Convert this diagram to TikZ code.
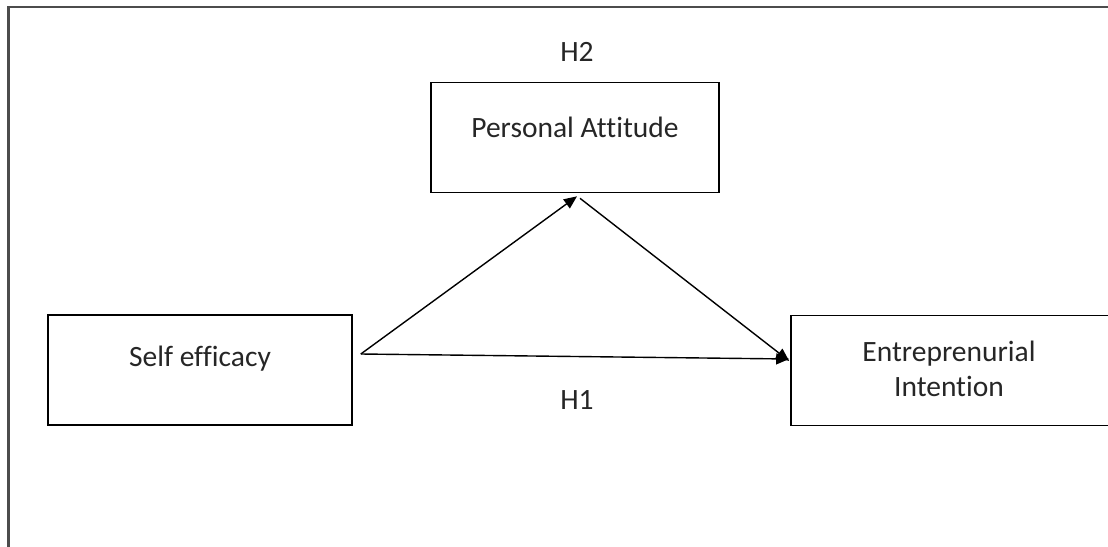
\documentclass[tikz,border=0pt]{standalone}
\usepackage{fontspec}
\setmainfont{Carlito}[Ligatures=NoCommon]
\usetikzlibrary{arrows.meta}
\begin{document}
\begin{tikzpicture}[x=1pt, y=-1pt,
    box/.style={draw, line width=1.6pt, minimum width=#1, minimum height=110pt, inner sep=0pt},
    lbl/.style={font=\fontsize{29.5}{35}\selectfont, text=black!85, align=center},
    path/.style={line width=1.4pt, -{Triangle[length=13pt, width=11pt]}}]
    \useasboundingbox (0,0) rectangle (1108,546);
    \clip (0,0) rectangle (1108,546);

    % 外框
    \draw[line width=2.5pt, black!70] (8.5,560) -- (8.5,7) -- (1120,7);

    % 方框
    \node[box=304pt] (selfeff) at (200,370) {};
    \node[box=288pt] (attitude) at (575,137.5) {};
    \node[box=330pt] (intention) at (956,370.5) {};

    % 文字
    \node[lbl] (selfefftxt) at (200,359) {Self efficacy};
    \node[lbl] (attitudetxt) at (575,127) {Personal Attitude};
    \node[lbl] (intentiontxt) at (949,369) {Entreprenurial\\Intention};
    \node[lbl] (h2) at (577,52) {H2};
    \node[lbl] (h1) at (577,400) {H1};

    % 箭头端点
    \coordinate (se-out) at ([xshift=8pt, yshift=16pt]selfeff.east);
    \coordinate (pa-in) at ([xshift=2pt, yshift=-3pt]attitude.south);
    \coordinate (pa-out) at ([xshift=5pt, yshift=-5pt]attitude.south);
    \coordinate (ei-in) at ([xshift=-1pt, yshift=9.5pt]intention.west);
    \coordinate (ei-in2) at ([xshift=-1pt, yshift=11.5pt]intention.west);

    % 箭头
    \draw[path] (se-out) -- (pa-in);
    \draw[path] (pa-out) -- (ei-in);
    \draw[path] (se-out) -- (ei-in2);
\end{tikzpicture}
\end{document}
